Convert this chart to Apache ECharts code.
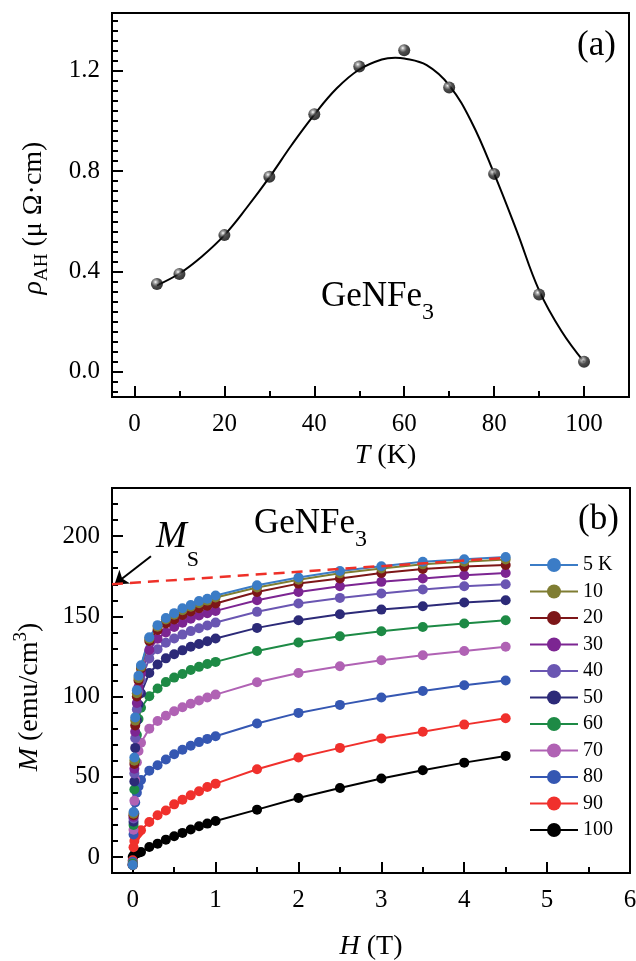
<!DOCTYPE html>
<html>
<head>
<meta charset="utf-8">
<script src="https://cdn.jsdelivr.net/npm/echarts@6/dist/echarts.min.js"></script>
<style>
  html, body { margin: 0; padding: 0; background: #fff; }
  #chart { width: 636px; height: 961px; }
</style>
</head>
<body>
<div id="chart"></div>
<script>
const FONT = 'Liberation Serif'

// (a) anomalous Hall resistivity vs temperature
const tempT = [5, 10, 20, 30, 40, 50, 60, 70, 80, 90, 100]
const rhoAH = [0.35, 0.39, 0.545, 0.778, 1.027, 1.217, 1.282, 1.133, 0.789, 0.308, 0.04]
// fitted curve
const fitT = [5, 10, 15, 20, 25, 30, 35, 40, 45, 50, 55, 58, 60, 65, 70, 75, 80, 85, 90, 95, 100]
const fitRho = [0.345, 0.392, 0.46, 0.545, 0.655, 0.775, 0.905, 1.025, 1.13, 1.205, 1.245, 1.252, 1.249, 1.222, 1.142, 0.995, 0.79, 0.563, 0.325, 0.162, 0.04]

// (b) magnetization isotherms
const fieldH = [0, 0.01, 0.02, 0.03, 0.05, 0.07, 0.1, 0.2, 0.3, 0.4, 0.5, 0.6, 0.7, 0.8, 0.9, 1, 1.5, 2, 2.5, 3, 3.5, 4, 4.5]
const m5K   = [-5, 28, 62, 87, 104, 113, 119.5, 137, 144.5, 149, 152, 155, 157, 159.5, 161, 163, 169.4, 174.2, 178.3, 181.2, 184, 185.6, 187]
const m10K  = [-5, 27, 60, 85, 102, 111.5, 118.5, 136, 143.5, 148, 151, 153.8, 156, 158.2, 159.8, 161.8, 168, 172.8, 176.8, 179.8, 182.4, 184, 185.5]
const m20K  = [-5, 26, 58, 82, 100, 110, 117.5, 134.7, 141.5, 145.5, 148, 150.8, 153, 155, 156.6, 158, 165.2, 170.4, 173.6, 177, 179.5, 181, 182]
const m30K  = [-5, 25, 55, 78, 96, 106, 114.3, 129, 136, 140, 143.4, 146, 148.5, 150.5, 152, 153.4, 160, 165.2, 168.8, 171.5, 173.6, 175.6, 177]
const m40K  = [-5, 24, 52, 74, 92, 103, 110.2, 123.7, 129.5, 133.5, 136.2, 138.6, 140.8, 142.6, 144.3, 146.1, 152.8, 158, 161.5, 164.2, 166.7, 168.8, 170]
const m50K  = [-5, 22, 47, 68, 85, 95, 102, 114.7, 120, 123.8, 126.4, 128.8, 131, 132.8, 134.5, 136.2, 142.8, 147.6, 151.3, 154.2, 156.3, 158.6, 160]
const m60K  = [-4, 20, 42, 60, 76, 86, 93, 100.2, 105, 109, 111.8, 114, 116.5, 118.5, 120.3, 121.6, 128.4, 133.7, 137.6, 140.7, 143.4, 145.5, 147.6]
const m70K  = [-4, 17, 35, 48, 59, 66, 71.2, 80, 84.8, 88, 90.8, 93.3, 95.5, 97.5, 99.4, 101.2, 108.9, 114.7, 118.9, 122.6, 125.7, 128.4, 131]
const m80K  = [-3, 14, 27, 34, 40, 44, 48, 53.8, 57.2, 60.7, 64, 66.8, 69.3, 71.6, 73.6, 75.2, 83.2, 89.8, 94.8, 99.4, 103.5, 107, 110]
const m90K  = [-2, 6, 10, 12.5, 14, 15.3, 16.6, 21.8, 26, 29, 32.8, 35.7, 38.4, 41, 43.6, 45.7, 54.7, 62, 68, 73.8, 78, 82.5, 86.5]
const m100K = [0, 0.8, 1.3, 1.8, 2.3, 2.7, 3.1, 6.2, 8.3, 10.8, 12.9, 15, 17.1, 19.1, 20.8, 22.4, 29.5, 36.8, 43, 48.9, 54, 58.8, 63]
const mSeries = [m5K, m10K, m20K, m30K, m40K, m50K, m60K, m70K, m80K, m90K, m100K]
const mNames = ['5 K', '10', '20', '30', '40', '50', '60', '70', '80', '90', '100']
const mColors = ['#3b7cc6', '#7f7d32', '#7d1618', '#7c2592', '#6a56b2', '#2c2a78', '#1d8a45', '#b062b4', '#3557b2', '#f0302c', '#000000']

// saturation extrapolation line and arrow
const msLineH = [-0.25, 4.5]
const msLineM = [170, 186.5]
const msArrowFrom = [0.22, 187.5]
const msArrowTo = [-0.22, 169.8]

// tick positions
const tTicks = [0, 20, 40, 60, 80, 100]
const tMinor = [10, 30, 50, 70, 90]
const rhoTicks = [0, 0.4, 0.8, 1.2]
const rhoMinor = []
for (let k = -2; k <= 35; k++) if (k % 10 !== 0) rhoMinor.push(+(k * 0.04).toFixed(2))
const hTicks = [0, 1, 2, 3, 4, 5, 6]
const hMinor = [0.5, 1.5, 2.5, 3.5, 4.5, 5.5]
const mTicks = [0, 50, 100, 150, 200]
const mMinor = [10, 20, 30, 40, 60, 70, 80, 90, 110, 120, 130, 140, 160, 170, 180, 190, 210, 220]

const chart = echarts.init(document.getElementById('chart'))

const labelBase = { color: '#000', fontFamily: FONT, fontSize: 25 }

function majorAxis(grid, pos, min, max, ticks, fmt, margin, extra) {
  return Object.assign({
    type: 'value', gridIndex: grid, position: pos, min: min, max: max,
    axisLine: { show: true, onZero: false, lineStyle: { color: '#000', width: 2 } },
    axisTick: { show: true, inside: true, length: 11, customValues: ticks, lineStyle: { color: '#000', width: 2 } },
    axisLabel: Object.assign({ customValues: ticks, formatter: fmt, margin: margin }, labelBase),
    splitLine: { show: false },
    nameLocation: 'middle'
  }, extra)
}
function minorAxis(grid, pos, min, max, ticks) {
  return {
    type: 'value', gridIndex: grid, position: pos, min: min, max: max,
    axisLine: { show: false, onZero: false },
    axisTick: { show: true, inside: true, length: 6, customValues: ticks, lineStyle: { color: '#000', width: 2 } },
    axisLabel: { show: false },
    splitLine: { show: false }
  }
}

const titleStyle = {
  color: '#000', fontFamily: FONT, fontSize: 28, lineHeight: 36,
  rich: {
    i: { fontFamily: FONT, fontSize: 28, fontStyle: 'italic', color: '#000', lineHeight: 36 },
    n: { fontFamily: FONT, fontSize: 28, color: '#000', lineHeight: 36 },
    sub: { fontFamily: FONT, fontSize: 19, color: '#000', lineHeight: 19, verticalAlign: 'bottom' },
    sup: { fontFamily: FONT, fontSize: 19, color: '#000', lineHeight: 19, verticalAlign: 'top' }
  }
}

const bottomSeries = []
for (let s = mSeries.length - 1; s >= 0; s--) {
  bottomSeries.push({
    name: mNames[s],
    type: 'line',
    xAxisIndex: 2, yAxisIndex: 2,
    data: fieldH.map((h, i) => [h, mSeries[s][i]]),
    symbol: 'circle',
    symbolSize: 10,
    color: mColors[s],
    lineStyle: { width: 2, color: mColors[s] },
    itemStyle: { color: mColors[s] },
    animation: false
  })
}

const option = {
  animation: false,
  grid: [
    { left: 112, right: 7, top: 13, height: 384, outerBoundsMode: 'none', containLabel: false, show: true, borderColor: '#000', borderWidth: 2, backgroundColor: 'transparent' },
    { left: 112, right: 6, top: 488, height: 385, outerBoundsMode: 'none', containLabel: false, show: true, borderColor: '#000', borderWidth: 2, backgroundColor: 'transparent' }
  ],
  xAxis: [
    majorAxis(0, 'bottom', -5, 110, tTicks, v => v, 15, {
      name: '{i|T} {n|(K)}', nameGap: 41,
      nameTextStyle: Object.assign({ padding: [0, 0, 0, 30] }, titleStyle)
    }),
    minorAxis(0, 'bottom', -5, 110, tMinor),
    majorAxis(1, 'bottom', -0.25, 6, hTicks, v => v, 15, {
      name: '{i|H} {n|(T)}', nameGap: 56,
      nameTextStyle: titleStyle
    }),
    minorAxis(1, 'bottom', -0.25, 6, hMinor)
  ],
  yAxis: [
    majorAxis(0, 'left', -0.1, 1.43, rhoTicks, v => v.toFixed(1), 12, {
      name: '{i|ρ}{sub|AH}{n| (μ Ω·cm)}', nameGap: 60,
      nameTextStyle: Object.assign({ padding: [0, 26, 0, 0] }, titleStyle)
    }),
    minorAxis(0, 'left', -0.1, 1.43, rhoMinor),
    majorAxis(1, 'left', -10, 230, mTicks, v => v, 12, {
      name: '{i|M}{n| (emu/cm}{sup|3}{n|)}', nameGap: 64,
      nameTextStyle: Object.assign({ padding: [0, 33, 0, 0] }, titleStyle)
    }),
    minorAxis(1, 'left', -10, 230, mMinor)
  ],
  legend: {
    data: mNames,
    orient: 'vertical',
    left: 529, top: 555,
    padding: 0,
    itemWidth: 48, itemHeight: 17.5, itemGap: 6.5,
    textStyle: { color: '#000', fontFamily: FONT, fontSize: 20 },
    selectedMode: false
  },
  graphic: [
    { type: 'text', x: 577, y: 46, style: { text: '(a)', fill: '#000', font: '35px "Liberation Serif"', verticalAlign: 'middle' } },
    { type: 'text', x: 578, y: 519.5, style: { text: '(b)', fill: '#000', font: '35px "Liberation Serif"', verticalAlign: 'middle' } },
    {
      type: 'text', x: 321, y: 296.5,
      style: {
        text: '{m|GeNFe}{s|3}', verticalAlign: 'middle', fill: '#000',
        rich: {
          m: { fontFamily: FONT, fontSize: 35, lineHeight: 56, fill: '#000' },
          s: { fontFamily: FONT, fontSize: 24, lineHeight: 24, verticalAlign: 'bottom', fill: '#000' }
        }
      }
    },
    {
      type: 'text', x: 254, y: 523.5,
      style: {
        text: '{m|GeNFe}{s|3}', verticalAlign: 'middle', fill: '#000',
        rich: {
          m: { fontFamily: FONT, fontSize: 35, lineHeight: 56, fill: '#000' },
          s: { fontFamily: FONT, fontSize: 24, lineHeight: 24, verticalAlign: 'bottom', fill: '#000' }
        }
      }
    },
    {
      type: 'text', x: 156, y: 537.5,
      style: {
        text: '{m|M}{s|S}', verticalAlign: 'middle', fill: '#000',
        rich: {
          m: { fontFamily: FONT, fontSize: 37, fontStyle: 'italic', lineHeight: 68, fill: '#000' },
          s: { fontFamily: FONT, fontSize: 22, lineHeight: 22, verticalAlign: 'bottom', fill: '#000' }
        }
      }
    }
  ],
  series: [
    {
      type: 'line',
      xAxisIndex: 0, yAxisIndex: 0,
      data: fitT.map((t, i) => [t, fitRho[i]]),
      smooth: 0.4,
      symbol: 'none',
      lineStyle: { color: '#000', width: 2 },
      silent: true
    },
    {
      type: 'scatter',
      xAxisIndex: 0, yAxisIndex: 0,
      data: tempT.map((t, i) => [t, rhoAH[i]]),
      symbol: 'circle',
      symbolSize: 12,
      itemStyle: {
        color: {
          type: 'radial', x: 0.38, y: 0.33, r: 0.7,
          colorStops: [
            { offset: 0, color: '#ffffff' },
            { offset: 0.18, color: '#9a9a9a' },
            { offset: 0.5, color: '#222222' },
            { offset: 1, color: '#000000' }
          ]
        }
      },
      z: 3
    },
    ...bottomSeries,
    {
      type: 'line',
      xAxisIndex: 2, yAxisIndex: 2,
      data: msLineH.map((h, i) => [h, msLineM[i]]),
      symbol: 'none',
      lineStyle: { color: '#ee3028', width: 2.5, type: [11, 7] },
      silent: true,
      z: 5,
      markLine: {
        silent: true,
        symbol: ['none', 'arrow'],
        symbolSize: 13,
        label: { show: false },
        lineStyle: { color: '#000', width: 2, type: 'solid' },
        data: [[{ coord: msArrowFrom }, { coord: msArrowTo }]]
      }
    }
  ]
}

chart.setOption(option)
</script>
</body>
</html>
